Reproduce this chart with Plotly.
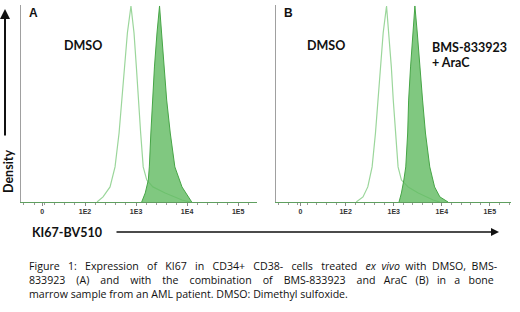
import plotly.graph_objects as go

# ---- data (x in log10 fluorescence units, y = relative density 0-100) ----
tick_labels = ["0", "1E2", "1E3", "1E4", "1E5"]
tick_log_A = [1.16, 2, 3, 4, 5]
tick_log_B = [1.06, 2, 3, 4, 5]

dmso_A_x = [2.235, 2.353, 2.49, 2.588, 2.667, 2.72, 2.77, 2.83, 2.90, 2.96, 3.006,
            3.045, 3.09, 3.14, 3.21, 3.33, 3.57, 3.90, 4.06]
dmso_A_y = [0, 2.6, 7.7, 17.9, 35.2, 52, 68.9, 86.2, 100, 86.2, 68.9,
            52, 35.2, 17.9, 11.2, 7.7, 4.6, 1.0, 0]
bms_A_x = [3.11, 3.18, 3.24, 3.26, 3.29, 3.32, 3.36, 3.41, 3.46, 3.50, 3.55,
           3.60, 3.67, 3.76, 3.90, 4.03, 4.09]
bms_A_y = [0, 4.6, 11.2, 17.9, 35.2, 52, 68.9, 86.2, 100, 86.2, 68.9,
           52, 35.2, 17.9, 7.7, 2.6, 0]

dmso_B_x = [2.22, 2.36, 2.46, 2.55, 2.62, 2.67, 2.72, 2.78, 2.85, 2.90, 2.95,
            2.99, 3.04, 3.09, 3.16, 3.30, 3.51, 3.82, 3.96]
dmso_B_y = [0, 2.6, 7.7, 17.9, 35.2, 52, 68.9, 86.2, 100, 86.2, 68.9,
            52, 35.2, 17.9, 11.2, 7.7, 4.6, 1.0, 0]
combo_B_x = [3.11, 3.16, 3.21, 3.25, 3.29, 3.31, 3.35, 3.40, 3.44, 3.49, 3.54,
             3.60, 3.66, 3.75, 3.85, 3.96, 4.13]
combo_B_y = [0, 4.6, 11.2, 17.9, 35.2, 52, 68.9, 86.2, 100, 86.2, 68.9,
             52, 35.2, 17.9, 7.7, 2.6, 0]

caption_line1 = "Figure 1: Expression of KI67 in CD34+ CD38- cells treated <i>ex</i> <i>vivo</i> with DMSO, BMS-"
caption_line2 = "833923 (A) and with the combination of BMS-833923 and AraC (B) in a bone"
caption_line3 = "marrow sample from an AML patient. DMSO: Dimethyl sulfoxide."


def justify(line, n_extra):
    """Spread n_extra non-breaking spaces across the gaps of a line (justified text)."""
    words = line.split(" ")
    gaps = len(words) - 1
    out = words[0]
    for i, w in enumerate(words[1:]):
        k = n_extra // gaps + (1 if i < n_extra % gaps else 0)
        out += "\u00a0" * k + " " + w
    return out


W, H = 520, 312
LIGHT = "#9bd69b"
DARK_LINE = "#46a546"
FILL = "rgba(100,188,100,0.82)"
FONT = "Lato"

fig = go.Figure()
fig.add_trace(go.Scatter(x=dmso_A_x, y=dmso_A_y, mode="lines", line=dict(color=LIGHT, width=1.2),
                         xaxis="x", yaxis="y", hoverinfo="skip"))
fig.add_trace(go.Scatter(x=bms_A_x, y=bms_A_y, mode="lines", fill="tozeroy", fillcolor=FILL,
                         line=dict(color=DARK_LINE, width=1), xaxis="x", yaxis="y", hoverinfo="skip"))
fig.add_trace(go.Scatter(x=dmso_B_x, y=dmso_B_y, mode="lines", line=dict(color=LIGHT, width=1.2),
                         xaxis="x2", yaxis="y2", hoverinfo="skip"))
fig.add_trace(go.Scatter(x=combo_B_x, y=combo_B_y, mode="lines", fill="tozeroy", fillcolor=FILL,
                         line=dict(color=DARK_LINE, width=1), xaxis="x2", yaxis="y2", hoverinfo="skip"))

def px(x):
    return x / W

def py(y):
    return (H - y) / H

xcommon = dict(showgrid=False, zeroline=False, showline=True, linecolor="#5f9f5f", linewidth=1,
               ticks="outside", ticklen=3, tickcolor="#888", tickwidth=1,
               minor=dict(ticks="outside", ticklen=2, tickcolor="#999", dtick=0.2),
               tickfont=dict(family="Liberation Sans", size=7, color="#333", weight="bold"),
               fixedrange=True)
ycommon = dict(showgrid=False, zeroline=False, showline=True, linecolor="#a0a0a0", linewidth=1,
               showticklabels=False, ticks="", range=[0, 100.5], fixedrange=True)

fig.update_layout(
    width=W, height=H, margin=dict(l=0, r=0, t=0, b=0),
    paper_bgcolor="white", plot_bgcolor="white", showlegend=False,
    xaxis=dict(domain=[px(21), px(257)], range=[0.745, 5.37], tickvals=tick_log_A,
               ticktext=tick_labels, anchor="y", **xcommon),
    yaxis=dict(domain=[py(202), py(5)], anchor="x", **ycommon),
    xaxis2=dict(domain=[px(276), px(511)], range=[0.55, 5.44], tickvals=tick_log_B,
                ticktext=tick_labels, anchor="y2", **xcommon),
    yaxis2=dict(domain=[py(202), py(5)], anchor="x2", **ycommon),
)

ann = []
def text(x, y, s, size=12, xanchor="center", bold=True, family=FONT, **kw):
    ann.append(dict(x=px(x), y=py(y), xref="paper", yref="paper", text=s, showarrow=False,
                    xanchor=xanchor, yanchor="middle",
                    font=dict(family=family, size=size, color="#111", weight="bold" if bold else "normal"),
                    **kw))

text(33, 13, "A", size=12, family="Liberation Sans")
text(288, 13, "B", size=12, family="Liberation Sans")
text(83, 45, "DMSO", size=12.5)
text(326, 45, "DMSO", size=12.5)
text(430, 47, "BMS-833923", size=12.5, xanchor="left")
text(430, 63, "+ AraC", size=12.5, xanchor="left")
text(8, 172, "Density", size=12.5, textangle=-90)
text(30, 232, "KI67-BV510", size=12.5, xanchor="left")

# arrows
ann.append(dict(x=px(5), y=py(9), xref="paper", yref="paper", ax=0, ay=128, axref="pixel", ayref="pixel",
                text="", showarrow=True, arrowhead=2, arrowsize=1, arrowwidth=2, arrowcolor="#111"))
ann.append(dict(x=px(499), y=py(232), xref="paper", yref="paper", ax=-384, ay=0, axref="pixel", ayref="pixel",
                text="", showarrow=True, arrowhead=2, arrowsize=1, arrowwidth=1.6, arrowcolor="#111"))

caption = "<br>".join([justify(caption_line1, 24), justify(caption_line2, 34), caption_line3])
text(27, 280.3, caption, size=10.6, xanchor="left", bold=False, family="Open Sans", align="left")

fig.update_layout(annotations=ann)
fig.write_html("out.html", config={"displayModeBar": False},
               post_script="document.body.style.margin='0';document.body.style.overflow='hidden';")
